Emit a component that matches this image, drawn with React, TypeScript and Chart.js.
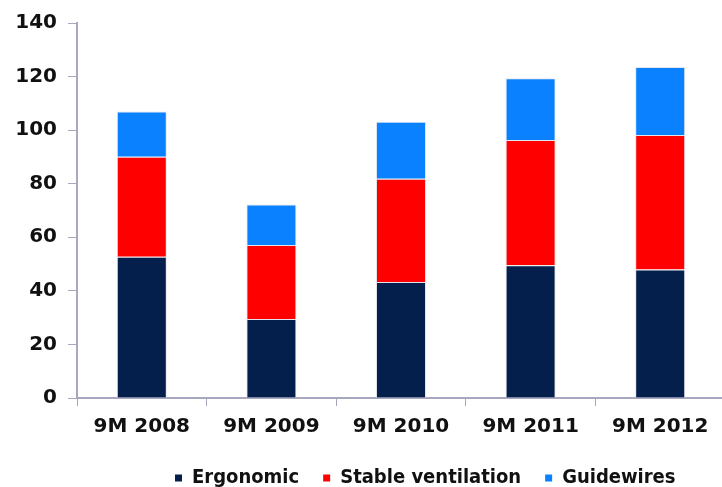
import React, { useEffect, useRef } from "react";
import { Chart, registerables } from "chart.js";

Chart.register(...registerables);

// Revenue split by product line, first nine months of each year
const periods = ["9M 2008", "9M 2009", "9M 2010", "9M 2011", "9M 2012"];
const ergonomic = [52.7, 29.5, 43.3, 49.6, 48.0];
const stableVentilation = [37.4, 27.6, 38.6, 46.7, 50.2];
const guidewires = [16.9, 15.1, 21.2, 23.1, 25.4];

const Y_MIN = 0;
const Y_MAX = 140;
const Y_STEP = 20;

const NAVY = "#041f4b";
const RED = "#ff0000";
const BLUE = "#0a82ff";
const AXIS = "#a7a7bf";
const SEG_EDGE = "#e4e4ec";
const TEXT = "#111111";

const AXIS_FONT = '"DejaVu Sans", Verdana, sans-serif';
const LEGEND_FONT = '"DejaVu Sans Condensed", "DejaVu Sans", sans-serif';

const CANVAS_W = 760;
const CANVAS_H = 510;

// Places the legend row: first swatch at LEGEND_X, text centred on LEGEND_Y
const LEGEND_X = 175;
const LEGEND_Y = 478;

const legendPlacement = {
  id: "legendPlacement",
  afterLayout(chart: any) {
    const lg = chart.legend;
    if (!lg || !lg.lineWidths) return;
    const p = lg.options.labels.padding;
    const lw = lg.lineWidths[0];
    const w = lg.width;
    const left = LEGEND_X - (w + p - lw) / 2;
    lg.left = left;
    lg.right = left + w;
    const itemH = lg._itemHeight ?? 20;
    const top = LEGEND_Y - p - itemH / 2;
    lg.top = top;
    lg.bottom = top + lg.height;
  },
};

export default function App() {
  const canvasRef = useRef<HTMLCanvasElement | null>(null);

  useEffect(() => {
    const canvas = canvasRef.current;
    if (!canvas) return;

    const seg = (label: string, data: number[], color: string) => ({
      label,
      data,
      backgroundColor: color,
      borderColor: SEG_EDGE,
      borderWidth: 1,
      barPercentage: 0.386,
      categoryPercentage: 1,
    });

    const chart = new Chart(canvas, {
      type: "bar",
      data: {
        labels: periods,
        datasets: [
          seg("Ergonomic", ergonomic, NAVY),
          seg("Stable ventilation", stableVentilation, RED),
          seg("Guidewires", guidewires, BLUE),
        ],
      },
      plugins: [legendPlacement],
      options: {
        responsive: false,
        animation: false,
        devicePixelRatio: 1,
        layout: { padding: { left: 0, right: 35, top: 21, bottom: 8 } },
        plugins: {
          tooltip: { enabled: false },
          title: { display: false },
          legend: {
            display: true,
            position: "bottom",
            labels: {
              boxWidth: 7,
              boxHeight: 7,
              padding: 24,
              color: TEXT,
              font: { family: LEGEND_FONT, size: 20, weight: "bold" },
              generateLabels(c: any) {
                const base = Chart.defaults.plugins.legend.labels.generateLabels(c);
                return base.map((item: any) => ({
                  ...item,
                  strokeStyle: item.fillStyle,
                  lineWidth: 0,
                }));
              },
            },
          },
        },
        scales: {
          x: {
            stacked: true,
            grid: {
              display: true,
              drawOnChartArea: false,
              drawTicks: true,
              tickLength: 8,
              color: AXIS,
              lineWidth: 1,
            },
            border: { display: true, color: AXIS, width: 2 },
            ticks: {
              color: TEXT,
              padding: 9,
              maxRotation: 0,
              autoSkip: false,
              font: { family: AXIS_FONT, size: 20, weight: "bold" },
            },
          },
          y: {
            stacked: true,
            min: Y_MIN,
            max: Y_MAX,
            afterFit(scale: any) {
              scale.width = 77;
            },
            grid: {
              display: true,
              drawOnChartArea: false,
              drawTicks: true,
              tickLength: 9,
              color: AXIS,
              lineWidth: 1,
            },
            border: { display: true, color: AXIS, width: 2 },
            ticks: {
              stepSize: Y_STEP,
              color: TEXT,
              padding: 11,
              font: { family: AXIS_FONT, size: 20, weight: "bold" },
            },
          },
        },
      },
    });

    return () => chart.destroy();
  }, []);

  return (
    <div
      style={{
        position: "fixed",
        left: 0,
        top: 0,
        width: 722,
        height: 487,
        overflow: "hidden",
        background: "#ffffff",
      }}
    >
      <canvas
        ref={canvasRef}
        width={CANVAS_W}
        height={CANVAS_H}
        style={{ display: "block", width: CANVAS_W, height: CANVAS_H }}
      />
    </div>
  );
}
